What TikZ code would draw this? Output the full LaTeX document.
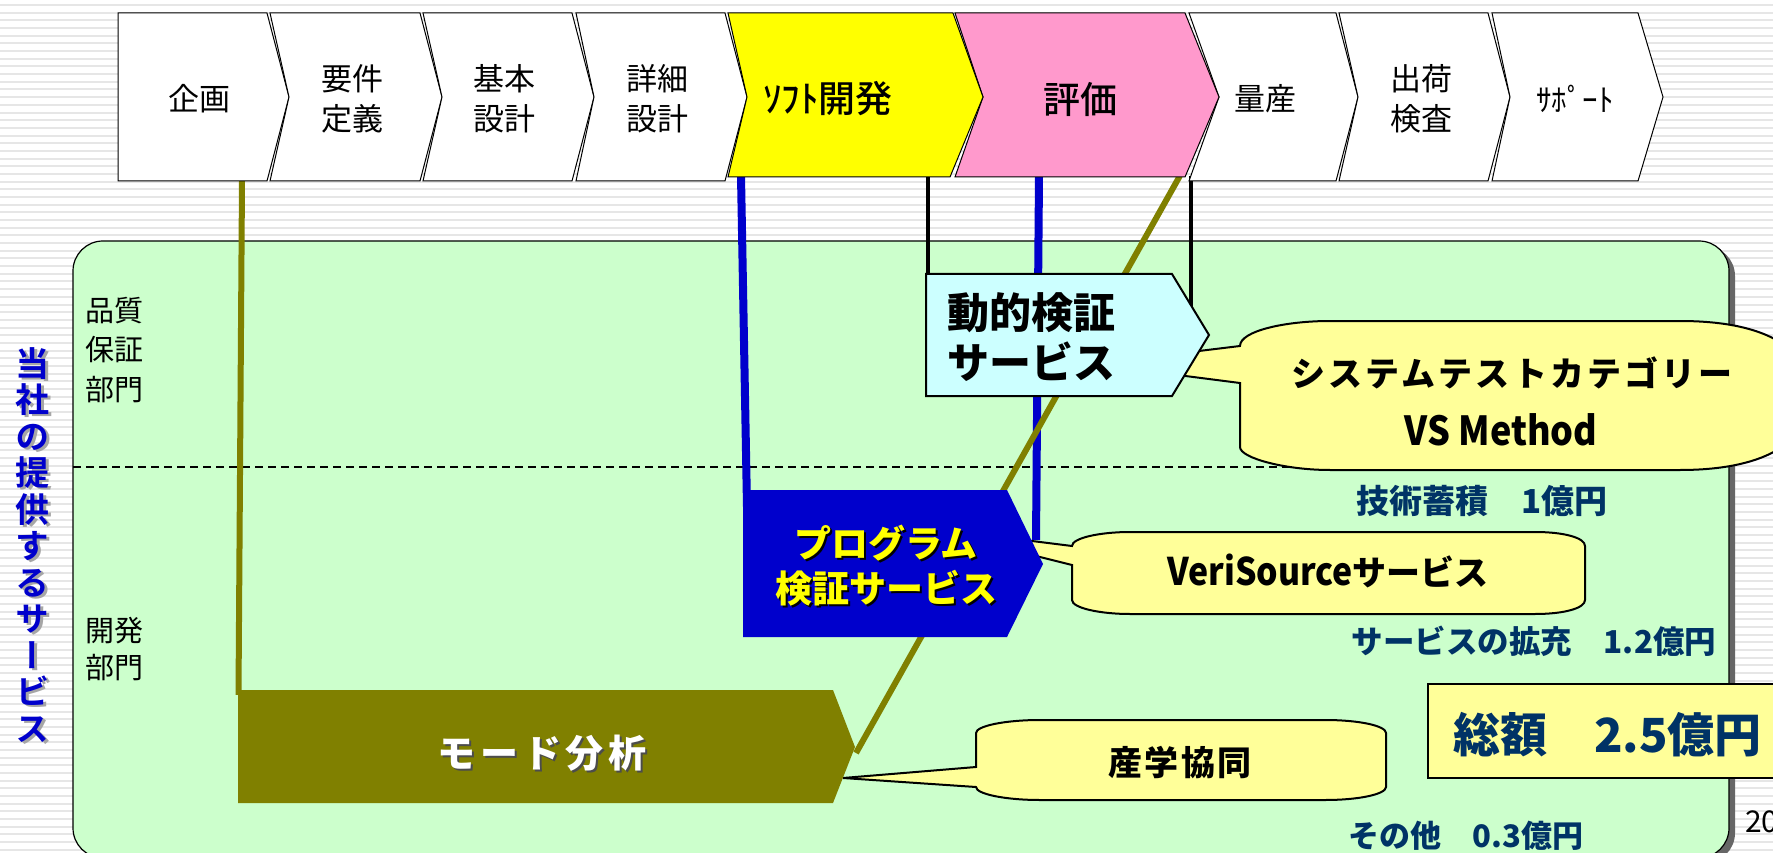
\documentclass[tikz,border=0pt]{standalone}
\usepackage{fontspec}
\setmainfont{Noto Sans CJK JP}
\newfontfamily\vertjp[RawFeature={+vert}]{Noto Sans CJK JP Bold}
\newfontfamily\medjp{Noto Sans CJK JP Medium}
\definecolor{navytx}{HTML}{003366}
\definecolor{panelg}{HTML}{CCFFCC}
\definecolor{calloutg}{HTML}{FFFF99}
\definecolor{hexc}{HTML}{CCFFFF}
\definecolor{pinkc}{HTML}{FF99CC}
\definecolor{yelc}{HTML}{FFFF00}
\definecolor{bluec}{HTML}{0000CC}
\definecolor{olivec}{HTML}{808000}
\definecolor{stripe}{HTML}{E6E6E6}
\newcommand{\fs}[1]{\fontsize{#1}{#1}\selectfont}
\newcommand{\narrowlat}[2]{{\fs{#1}\addfontfeature{FakeStretch=#2}}}
\tikzset{
  chev/.style={draw=black,line width=1pt,fill=white},
  lab/.style={inner sep=0pt,align=center,font=\fs{31},text=black},
  twoline/.style={lab,font=\fontsize{31}{40}\selectfont},
  sidelab/.style={inner sep=0pt,align=left,anchor=west,font=\fontsize{29}{39.5}\selectfont},
  callout/.style={draw=black,line width=2pt,fill=calloutg},
  navy/.style={inner sep=0pt,text=navytx,font=\fs{31}\bfseries},
  conn/.style={line width=#1,line cap=butt},
  boldlab/.style={inner sep=0pt,align=center,font=\fs{34}\bfseries},
}
\begin{document}
\begin{tikzpicture}[x=1pt,y=-1pt]
\useasboundingbox (0,0) rectangle (1773,853);
\fill[white] (0,0) rectangle (1773,853);
\foreach \i in {0,...,110}{
  \fill[stripe] (0,{4+7.68*\i}) rectangle (1773,{6+7.68*\i});
}
% panel
\fill[black!60] (78,246) [rounded corners=30pt] -- (1735,246) -- (1735,863) -- (78,863) -- cycle;
\draw[black,line width=1.2pt,fill=panelg,rounded corners=30pt] (73,241) -- (1729,241) -- (1729,858) -- (73,858) -- cycle;
% dashed divider
\coordinate (dashL) at (73,467);
\coordinate (dashR) at (1300,467);
\draw[line width=1.5pt,dash pattern=on 8pt off 5pt] (dashL) -- (dashR);
% connector ends
\coordinate (kikakuB) at (242,181);
\coordinate (modeL) at (238.5,695);
\coordinate (softB) at (741,176);
\coordinate (progL) at (747,507);
\coordinate (hyokaB) at (1039,176);
\coordinate (progR) at (1036,540);
\coordinate (softB2) at (928,176);
\coordinate (dynL) at (928,275);
\coordinate (hyokaB2) at (1191,176);
\coordinate (dynR) at (1191,310);
\coordinate (hyokaB3) at (1179.8,176);
\coordinate (modeR) at (856,753);
\draw[olivec,conn=6pt] (kikakuB) -- (modeL);
\draw[bluec,conn=8pt] (softB) -- (progL);
\draw[bluec,conn=8pt] (hyokaB) -- (progR);
\draw[olivec,conn=6pt] (hyokaB3) -- (modeR);
\draw[black,conn=3.5pt] (softB2) -- (dynL);
\draw[black,conn=3.5pt] (hyokaB2) -- (dynR);
% chevrons
\draw[chev] (118,13) -- (267,13) -- (289,97) -- (267,181) -- (118,181) -- cycle;
\draw[chev] (270,13) -- (420,13) -- (442,97) -- (420,181) -- (270,181) -- (289,97) -- cycle;
\draw[chev] (423,13) -- (572,13) -- (594,97) -- (572,181) -- (423,181) -- (442,97) -- cycle;
\draw[chev] (576,13) -- (725,13) -- (747,97) -- (725,181) -- (576,181) -- (594,97) -- cycle;
\draw[chev] (1189,13) -- (1336,13) -- (1358,97) -- (1336,181) -- (1189,181) -- (1219,97) -- cycle;
\draw[chev] (1339,13) -- (1488,13) -- (1510,97) -- (1488,181) -- (1339,181) -- (1358,97) -- cycle;
\draw[chev] (1492,13) -- (1638,13) -- (1663,97) -- (1638,181) -- (1492,181) -- (1510,97) -- cycle;
\draw[chev,fill=pinkc] (955,13) -- (1185,13) -- (1219,97) -- (1185,177) -- (955,177) -- (983,97) -- cycle;
\draw[chev,fill=yelc] (728,13) -- (953,13) -- (983,97) -- (950,177) -- (728,177) -- (747,97) -- cycle;
\node[lab] (kikaku) at (199,99) {企画};
\node[twoline] (yoken) at (352,99) {要件\\定義};
\node[twoline] (kihon) at (504,99) {基本\\設計};
\node[twoline] (shosai) at (657,99) {詳細\\設計};
\node[lab,font=\fs{37}\medjp] (soft) at (828,99) {ｿﾌﾄ開発};
\node[lab,font=\fs{37}\medjp] (hyoka) at (1080,99) {評価};
\node[lab] (ryosan) at (1265,99) {量産};
\node[twoline] (shukka) at (1421,99) {出荷\\検査};
\node[lab] (support) at (1575,99) {ｻﾎﾟｰﾄ};
% callouts
\draw[callout] (1092,364) -- (1240,346) .. controls (1240,331) and (1285,321) .. (1330,321)
  -- (1680,321) .. controls (1760,321) and (1810,345) .. (1810,395)
  .. controls (1810,445) and (1760,470) .. (1680,470) -- (1330,470)
  .. controls (1285,470) and (1240,458) .. (1240,447) -- (1240,383) -- cycle;
\draw[callout] (920,527) -- (1072,546) .. controls (1072,538) and (1100,532) .. (1130,532)
  -- (1535,532) .. controls (1565,532) and (1585,538) .. (1585,546) -- (1585,600)
  .. controls (1585,608) and (1565,614) .. (1535,614) -- (1130,614)
  .. controls (1100,614) and (1072,608) .. (1072,600) -- (1072,565) -- cycle;
\draw[callout] (843,778) -- (976,767) -- (976,733) .. controls (976,726) and (1005,720) .. (1040,720)
  -- (1325,720) .. controls (1360,720) and (1386,726) .. (1386,733) -- (1386,787)
  .. controls (1386,794) and (1360,800) .. (1325,800) -- (1040,800)
  .. controls (1005,800) and (976,794) .. (976,787) -- cycle;
% dynamic verification hexagon
\draw[black,line width=2pt,fill=hexc] (926,274) -- (1172,274) -- (1209,335) -- (1172,396) -- (926,396) -- cycle;
\node[inner sep=0pt,anchor=west,align=left,font=\fontsize{42}{50}\selectfont\bfseries] (dyn) at (947,337) {動的検証\\サービス};
% program hexagon
\fill[bluec] (743,490) -- (1007,490) -- (1043,564) -- (1007,637) -- (743,637) -- cycle;
\node[inner sep=0pt,align=center,text=black,font=\fontsize{37}{45}\selectfont\bfseries] (progS) at (888,568) {プログラム\\検証サービス};
\node[inner sep=0pt,align=center,text=yelc,font=\fontsize{37}{45}\selectfont\bfseries] (prog) at (886,566) {プログラム\\検証サービス};
% mode pentagon
\fill[olivec] (238,690) -- (833,690) -- (855,747) -- (833,803) -- (238,803) -- cycle;
\node[inner sep=0pt,text=black!70,font=\fs{38}\bfseries\addfontfeature{LetterSpace=12.5}] (modeS) at (544,755) {モード分析};
\node[inner sep=0pt,text=white,font=\fs{38}\bfseries\addfontfeature{LetterSpace=12.5}] (mode) at (542,753) {モード分析};
% callout text
\node[boldlab,font=\fs{34}\bfseries\addfontfeature{LetterSpace=9}] (systest) at (1512,373) {システムテストカテゴリー};
\node[boldlab,font=\fs{40}\bfseries\addfontfeature{FakeStretch=0.9}] (vs) at (1501,430) {VS Method};
\node[boldlab,font=\fs{34}\bfseries] (veri) at (1328,571) {{\fs{38}\addfontfeature{FakeStretch=0.89}VeriSource}サービス};
\node[boldlab,font=\fs{34}\bfseries\addfontfeature{LetterSpace=7}] (sangaku) at (1180,763) {産学協同};
% budget text
\node[navy,font=\fs{33}\bfseries] (b1) at (1482,501) {技術蓄積　1億円};
\node[navy,font=\fs{31.5}\bfseries] (b2) at (1534,641) {サービスの拡充　1.2億円};
\node[navy] (b3) at (1466,836) {その他　0.3億円};
\draw[black,line width=2pt,fill=calloutg] (1800,684) -- (1428,684) -- (1428,778) -- (1800,778);
\node[inner sep=0pt,anchor=west,text=navytx,font=\fs{47}\bfseries] (total) at (1453,735) {総額　2.5億円};
% side labels
\node[sidelab] (dept1) at (85,350) {品質\\保証\\部門};
\node[sidelab,font=\fontsize{29}{37}\selectfont] (dept2) at (85,649) {開発\\部門};
\node[inner sep=0pt,anchor=west,font=\fs{30}] (page) at (1745,822) {20};
% vertical title
\node[inner sep=0pt,align=center,text=black!35,font=\fontsize{34}{36.5}\selectfont\vertjp] (titleS) at (35,547) {当\\社\\の\\提\\供\\す\\る\\サ\\ー\\ビ\\ス};
\node[inner sep=0pt,align=center,text=bluec,font=\fontsize{34}{36.5}\selectfont\vertjp] (title) at (33,545) {当\\社\\の\\提\\供\\す\\る\\サ\\ー\\ビ\\ス};
\end{tikzpicture}
\end{document}
